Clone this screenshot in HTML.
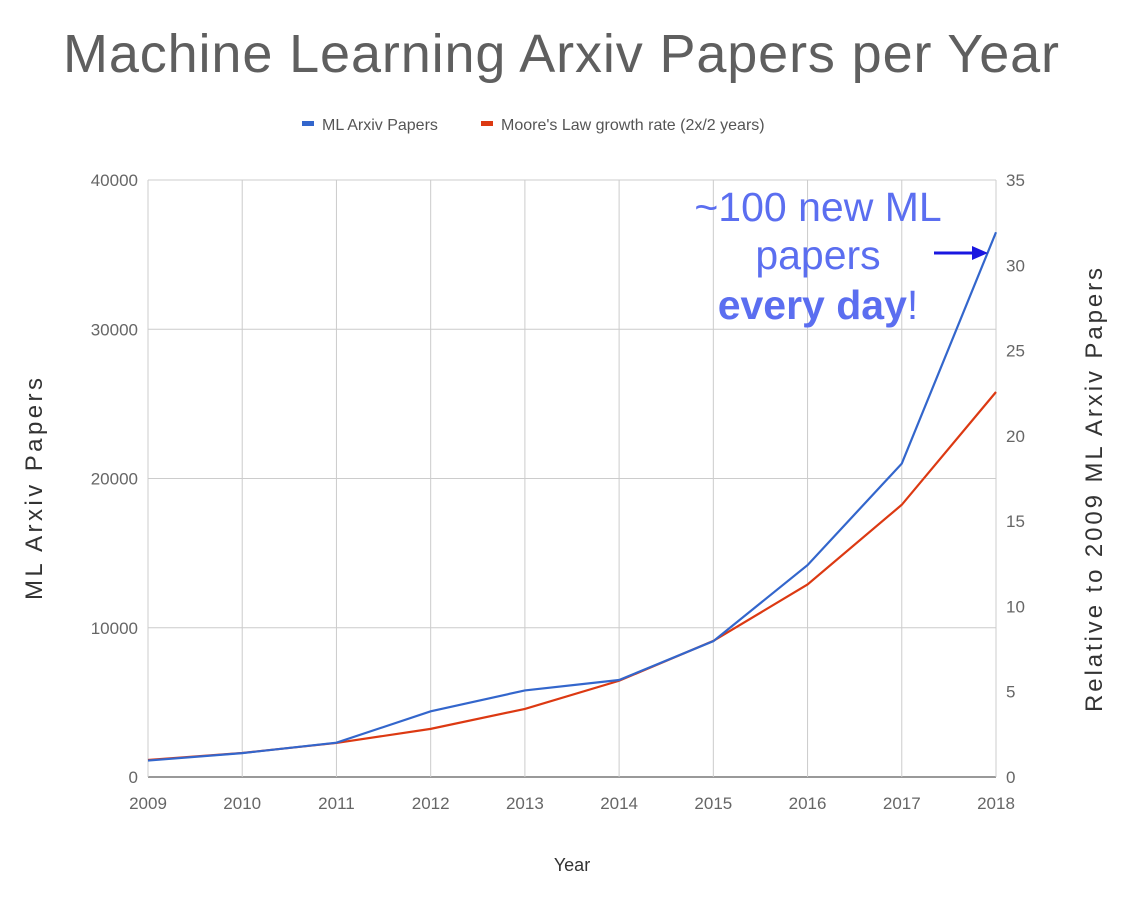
<!DOCTYPE html>
<html><head><meta charset="utf-8"><style>
body{margin:0;background:#fff;}
svg text{font-family:"Liberation Sans",sans-serif;}
</style></head><body>
<svg width="1138" height="896" viewBox="0 0 1138 896">
<text x="561" y="72" text-anchor="middle" font-size="54" fill="#5f5f5f" textLength="996">Machine Learning Arxiv Papers per Year</text>
<g>
<rect x="302" y="121" width="12" height="5" fill="#3366cc"/>
<text x="322" y="130" font-size="16" fill="#555">ML Arxiv Papers</text>
<rect x="481" y="121" width="12" height="5" fill="#dc3912"/>
<text x="501" y="130" font-size="16" fill="#555">Moore's Law growth rate (2x/2 years)</text>
</g>
<g id="grid"></g><g id="axes"></g><g id="series"></g>
<text transform="translate(42,489) rotate(-90)" text-anchor="middle" font-size="24" fill="#333" textLength="222">ML Arxiv Papers</text>
<text transform="translate(1102,490) rotate(-90)" text-anchor="middle" font-size="24" fill="#333" textLength="444">Relative to 2009 ML Arxiv Papers</text>
<text x="572" y="871" text-anchor="middle" font-size="18" fill="#333">Year</text>
<g fill="#5b6ef0" font-size="41" text-anchor="middle">
<text x="818" y="221">~100 new ML</text>
<text x="818" y="269">papers</text>
<text x="818" y="319"><tspan font-weight="bold">every day</tspan>!</text>
</g>
<g>
<line x1="934" y1="253" x2="975" y2="253" stroke="#1a17e0" stroke-width="3"/>
<polygon points="972,246 988,253 972,260" fill="#1a17e0"/>
</g>
</svg>
<script>
const years=[2009,2010,2011,2012,2013,2014,2015,2016,2017,2018];
const mlPapers=[1100,1600,2300,4400,5800,6500,9100,14200,21000,36500];
const mooreLaw=[1140,1612,2280,3224,4560,6449,9120,12898,18240,25795];
const leftTicks=[0,10000,20000,30000,40000];
const rightTicks=[0,5,10,15,20,25,30,35];
const NS="http://www.w3.org/2000/svg";
const x0=148,x1=996,yb=777,yt=180;
const xS=i=>x0+(x1-x0)*i/(years.length-1);
const yL=v=>yb-(yb-yt)*v/40000;
const yR=v=>yb-(yb-yt)*v/35;
function mk(tag,attrs,parent,text){const e=document.createElementNS(NS,tag);for(const k in attrs)e.setAttribute(k,attrs[k]);if(text!==undefined)e.textContent=text;document.getElementById(parent).appendChild(e);return e;}
leftTicks.forEach(t=>{
 const l=mk('line',{x1:x0,x2:x1,y1:yL(t),y2:yL(t),stroke:t===0?'#333':'#ccc','stroke-width':1},'grid');
 
 
 const tx=mk('text',{x:138,y:yL(t)+6,'text-anchor':'end','font-size':17,fill:'#666'},'axes',String(t));
 
 
});
years.forEach((y,i)=>{
 const l=mk('line',{x1:xS(i),x2:xS(i),y1:yt,y2:yb,stroke:'#ccc','stroke-width':1},'grid');
 
 
 const tx=mk('text',{x:xS(i),y:809,'text-anchor':'middle','font-size':17,fill:'#666'},'axes',String(y));
 
 
});
rightTicks.forEach(t=>{
 const tx=mk('text',{x:1006,y:yR(t)+6,'font-size':17,fill:'#666'},'axes',String(t));
 
 
});
const red=mk('polyline',{points:mooreLaw.map((v,i)=>xS(i)+','+yL(v)).join(' '),fill:'none',stroke:'#dc3912','stroke-width':2.2},'series');


const blue=mk('polyline',{points:mlPapers.map((v,i)=>xS(i)+','+yL(v)).join(' '),fill:'none',stroke:'#3366cc','stroke-width':2.2},'series');


</script>
</body></html>
